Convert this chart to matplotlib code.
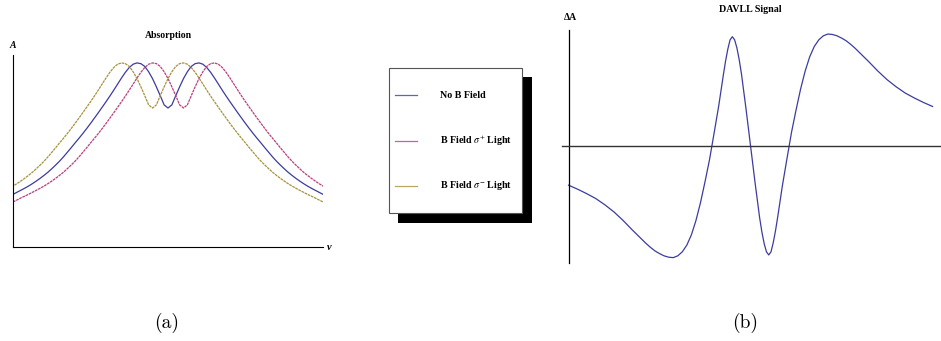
import matplotlib

matplotlib.use("Agg")
import matplotlib.pyplot as plt  # noqa: E402
import numpy as np  # noqa: E402
from matplotlib.patches import Rectangle  # noqa: E402

plt.rcParams["font.family"] = ["Liberation Serif", "DejaVu Serif"]
plt.rcParams["mathtext.fontset"] = "stix"

# No-field absorption line, one half of a symmetric profile (detuning >= 0)
nu_half = np.arange(0, 11.01, 0.25)
a_half = [
    0.755, 0.772, 0.822, 0.870, 0.915, 0.952, 0.981, 0.996, 1.000,
    0.993, 0.975, 0.949, 0.918, 0.885, 0.852, 0.820, 0.789, 0.759,
    0.729, 0.700, 0.671, 0.643, 0.616, 0.590, 0.565,
    0.539, 0.514, 0.489, 0.466, 0.445, 0.425, 0.406, 0.389, 0.373,
    0.358, 0.344, 0.331, 0.319, 0.308, 0.297, 0.286, 0.276, 0.266,
    0.255, 0.245,
]
# Zeeman shift of the sigma+/sigma- lines, in the same detuning units
zeeman_shift = 1.0

# DAVLL error signal, one half of an odd function (detuning >= 0)
davll_x = [0, 0.25, 0.5, 0.625, 0.75, 0.875, 1.0, 1.125, 1.25, 1.375, 1.5,
           1.75, 2.0, 2.25, 2.5, 2.75, 3.0, 3.25, 3.5, 3.75, 4.0, 4.25,
           4.5, 4.75, 5.0, 5.25, 5.5, 5.75, 6.0, 6.5, 7.0, 7.5, 8.0, 8.5,
           9.0, 9.5, 10.0]
davll_y = [0, -0.083, -0.161, -0.193, -0.219, -0.237, -0.244, -0.237,
           -0.216, -0.189, -0.157, -0.089, -0.029, 0.030, 0.080, 0.127,
           0.167, 0.199, 0.222, 0.237, 0.246, 0.250, 0.249, 0.246, 0.241,
           0.235, 0.227, 0.218, 0.208, 0.188, 0.167, 0.148, 0.132, 0.118,
           0.107, 0.097, 0.088]

series_labels = ["No B Field", r"B Field $\sigma^{+}$ Light",
                 r"B Field $\sigma^{-}$ Light"]
series_colors = ["#3c3ca0", "#b8407c", "#a8923c"]

W, H = 941, 341


def fx(px):
    return px / W


def fy(py):
    return 1 - py / H


def rect(x0, y0, x1, y1):
    # pixel box (top-left origin) -> figure-fraction rect
    return [fx(x0), fy(y1), (x1 - x0) / W, (y1 - y0) / H]


nu = np.concatenate([-nu_half[:0:-1], nu_half])
a0 = np.concatenate([np.array(a_half)[:0:-1], a_half])
dx = np.concatenate([-np.array(davll_x)[:0:-1], davll_x])
dy = np.concatenate([-np.array(davll_y)[:0:-1], davll_y])

fig = plt.figure(figsize=(W / 100, H / 100), dpi=100)

# --- (a) absorption ---
ax = fig.add_axes(rect(13, 55, 323, 247))
ax.plot(nu, a0, color=series_colors[0], lw=0.9)
ax.plot(nu + zeeman_shift, a0, color=series_colors[1], lw=0.9,
        ls=(0, (2.2, 0.6)))
ax.plot(nu - zeeman_shift, a0, color=series_colors[2], lw=0.9,
        ls=(0, (2.2, 0.6)))
ax.set_xlim(-10, 10)
ax.set_ylim(0, 1.043)
for side in ("top", "right"):
    ax.spines[side].set_visible(False)
for side in ("left", "bottom"):
    ax.spines[side].set_linewidth(0.8)
ax.set_xticks([])
ax.set_yticks([])
ax.patch.set_visible(False)

fig.text(fx(168), fy(35), "Absorption", ha="center", va="center",
         fontsize=7, fontweight="bold")
fig.text(fx(13), fy(46), "A", ha="center", va="center", fontsize=7,
         fontweight="bold", style="italic")
fig.text(fx(329), fy(247), "ν", ha="center", va="center", fontsize=7.5,
         fontweight="bold", style="italic")

# --- legend box with drop shadow ---
fig.add_artist(Rectangle((fx(398), fy(223)), 133.5 / W, 146 / H,
                         transform=fig.transFigure, facecolor="black",
                         edgecolor="none"))
fig.add_artist(Rectangle((fx(389), fy(213)), 132.5 / W, 145 / H,
                         transform=fig.transFigure, facecolor="white",
                         edgecolor="#555555", lw=0.8))
for i, (lab, col) in enumerate(zip(series_labels, series_colors)):
    y = [95, 140.5, 186][i]
    fig.add_artist(plt.Line2D([fx(395), fx(417)], [fy(y), fy(y)],
                              transform=fig.transFigure, color=col, lw=0.9,
                              alpha=0.8))
    fig.text(fx(440), fy(y), lab, ha="left", va="center", fontsize=7.2,
             fontweight="bold")

# --- (b) DAVLL signal ---
bx = fig.add_axes(rect(562, 30, 940, 263))
bx.plot(dx, dy, color=series_colors[0], lw=0.9)
bx.set_xlim(-10.36, 10.41)
bx.set_ylim(-0.262, 0.259)
bx.spines["top"].set_visible(False)
bx.spines["right"].set_visible(False)
bx.spines["left"].set_position(("data", -10))
bx.spines["bottom"].set_position(("data", 0))
bx.spines["left"].set_linewidth(0.9)
bx.spines["bottom"].set_linewidth(1.0)
bx.spines["bottom"].set_color("#333333")
bx.set_xticks([])
bx.set_yticks([])
bx.patch.set_visible(False)

fig.text(fx(750), fy(10), "DAVLL Signal", ha="center", va="center",
         fontsize=7.2, fontweight="bold")
fig.text(fx(570), fy(17), "ΔA", ha="center", va="center", fontsize=7,
         fontweight="bold")

# sub-figure captions
fig.text(fx(167), fy(323), "(a)", ha="center", va="center", fontsize=14,
         family="cmr10")
fig.text(fx(745), fy(323), "(b)", ha="center", va="center", fontsize=14,
         family="cmr10")

fig.savefig("out.png", dpi=100)
